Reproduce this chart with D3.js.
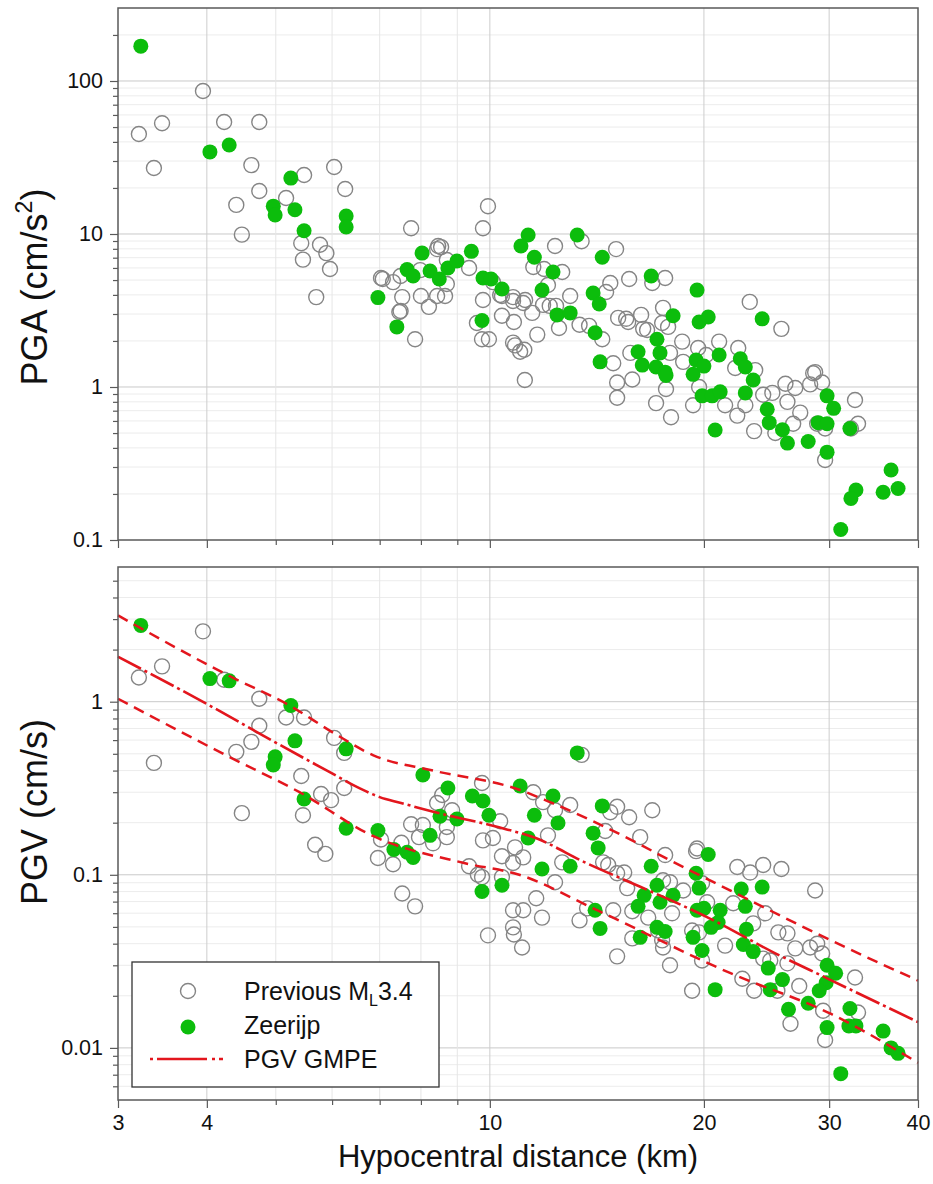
<!DOCTYPE html>
<html><head><meta charset="utf-8">
<script src="https://cdn.jsdelivr.net/npm/d3@7"></script>
<style>body{margin:0;background:#fff;} svg{display:block;font-family:"Liberation Sans",Arial,sans-serif;}</style>
</head><body>
<svg id="c" width="933" height="1184"></svg>
<script>
// ---------------- data ----------------
const xTickValues = [3,4,5,6,7,8,9,10,20,30,40];
const xTickLabels = [3,4,10,20,30,40];
const pgaTickLabels = [0.1,1,10,100];
const pgvTickLabels = [0.01,0.1,1];

const previousPGA = [[3.95,86],[3.21,45],[3.46,53],[3.37,27],[4.23,54],[4.74,54],[4.62,28.2],[4.74,19.1],[4.40,15.5],[4.48,9.9],[5.48,24.3],[5.17,17.2],[6.04,27.4],[6.26,19.7],[5.43,8.7],[5.46,6.8],[5.77,8.5],[5.89,7.5],[5.96,5.9],[7.75,10.9],[9.94,15.2],[9.78,10.9],[7.03,5.16],[7.31,4.85],[7.49,5.31],[8.46,8.34],[8.54,8.21],[8.43,7.97],[8.70,6.76],[8.70,4.71],[9.35,5.99],[7.98,5.81],[10.1,4.85],[10.78,3.87],[5.70,3.87],[7.53,3.87],[8.00,3.93],[8.43,3.93],[8.65,3.93],[9.78,3.70],[7.49,3.14],[8.21,3.34],[7.85,2.05],[9.59,2.62],[9.75,2.05],[9.97,2.05],[10.40,3.93],[10.40,2.92],[10.78,3.65],[10.81,2.66],[10.78,1.95],[10.85,1.87],[11.03,1.70],[11.2,1.11],[7.07,5.08],[7.46,3.09],[12.35,8.34],[13.46,8.96],[15.05,7.97],[15.70,5.08],[14.77,4.78],[11.51,6.08],[11.92,5.90],[12.64,5.64],[12.07,4.64],[12.97,3.93],[10.34,3.99],[11.14,3.54],[11.47,3.05],[11.88,3.44],[12.14,3.39],[12.39,3.39],[15.15,2.83],[15.55,2.79],[14.57,4.18],[16.92,4.78],[17.64,5.16],[23.2,3.6],[11.21,3.70],[11.66,2.20],[12.51,2.43],[11.18,1.75],[13.37,2.55],[13.79,2.51],[14.39,2.05],[14.91,1.43],[15.10,1.07],[15.10,0.85],[15.86,1.12],[15.76,1.67],[15.65,2.66],[16.32,2.96],[16.43,2.40],[16.64,2.36],[17.47,2.62],[17.52,3.29],[17.81,2.47],[17.92,1.67],[18.64,1.98],[17.69,0.97],[17.13,0.785],[17.98,0.635],[18.70,1.46],[19.31,0.76],[19.63,1.80],[19.69,1.0],[20.15,1.62],[21.01,1.98],[22.35,1.80],[22.13,1.33],[23.61,1.29],[25.70,2.40],[21.42,0.76],[22.28,0.65],[22.87,0.76],[24.23,0.89],[24.96,0.915],[26.04,1.05],[26.88,0.985],[26.21,0.80],[27.32,0.68],[26.70,0.575],[23.53,0.515],[25.20,0.50],[28.49,1.23],[28.67,1.25],[28.21,1.04],[29.33,1.07],[28.86,0.575],[29.61,0.535],[29.61,0.333],[32.62,0.822],[32.94,0.575],[32.19,0.535]];

const zeerijpPGA = [[3.23,169],[4.04,34.4],[4.30,38.2],[5.25,23.2],[4.96,15.2],[4.99,13.3],[5.32,14.4],[5.48,10.5],[6.28,13.1],[6.28,11.1],[6.96,3.84],[7.40,2.47],[8.03,7.5],[7.65,5.85],[7.80,5.31],[8.24,5.73],[8.49,5.08],[8.73,5.99],[8.99,6.66],[9.42,7.7],[9.78,5.16],[10.04,5.08],[10.40,4.37],[11.32,9.85],[11.06,8.34],[11.55,7.05],[12.27,5.64],[11.84,4.30],[13.27,9.85],[14.39,7.05],[13.97,4.11],[14.25,3.49],[12.43,2.96],[12.97,3.05],[9.75,2.72],[16.86,5.31],[19.56,4.30],[14.06,2.26],[14.29,1.46],[18.10,2.92],[19.69,2.66],[20.28,2.87],[24.15,2.79],[17.18,2.05],[16.16,1.70],[17.35,1.67],[16.38,1.39],[17.13,1.35],[17.64,1.25],[17.69,1.19],[19.50,1.50],[19.31,1.21],[20.0,1.37],[21.01,1.62],[22.50,1.53],[22.87,1.35],[23.46,1.11],[22.87,0.915],[19.88,0.875],[20.54,0.875],[21.08,0.93],[20.74,0.523],[29.80,0.875],[30.44,0.725],[24.55,0.715],[24.71,0.585],[25.79,0.525],[26.21,0.43],[28.03,0.44],[28.95,0.585],[29.80,0.575],[29.80,0.375],[32.09,0.535],[36.66,0.287],[35.73,0.205],[37.50,0.217],[32.72,0.212],[32.19,0.187],[31.15,0.117]];

const previousPGV = [[3.95,2.55],[3.21,1.38],[3.46,1.60],[3.37,0.443],[4.23,1.34],[4.74,1.04],[4.74,0.726],[4.62,0.586],[4.40,0.513],[4.48,0.227],[5.17,0.81],[5.48,0.81],[5.43,0.372],[5.46,0.221],[5.79,0.293],[5.98,0.270],[6.04,0.618],[6.24,0.506],[6.24,0.317],[7.75,0.196],[8.05,0.194],[7.95,0.165],[8.43,0.26],[8.57,0.289],[8.85,0.236],[8.70,0.189],[8.70,0.165],[8.32,0.152],[9.75,0.339],[10.34,0.204],[9.78,0.158],[10.1,0.163],[7.03,0.16],[7.51,0.153],[5.68,0.149],[10.85,0.144],[5.87,0.132],[6.96,0.125],[7.31,0.115],[7.53,0.078],[7.85,0.0657],[9.35,0.112],[9.62,0.1],[9.75,0.097],[10.40,0.128],[10.78,0.117],[10.40,0.097],[9.94,0.0447],[10.78,0.0624],[10.78,0.0497],[10.81,0.0452],[11.1,0.038],[13.46,0.493],[11.51,0.30],[11.88,0.263],[12.35,0.236],[12.97,0.253],[12.07,0.169],[15.10,0.247],[14.77,0.23],[15.70,0.215],[16.92,0.236],[14.53,0.179],[16.27,0.165],[19.56,0.142],[11.14,0.126],[11.62,0.0732],[11.14,0.0624],[11.84,0.0566],[12.35,0.0906],[12.64,0.118],[13.37,0.0545],[13.70,0.064],[14.43,0.118],[14.67,0.114],[15.10,0.102],[15.45,0.103],[14.91,0.0624],[15.10,0.0338],[15.60,0.0838],[15.86,0.0616],[15.86,0.0429],[16.70,0.0566],[17.24,0.0477],[17.64,0.13],[17.52,0.093],[17.92,0.0906],[18.04,0.0599],[17.47,0.0418],[17.52,0.038],[17.92,0.030],[18.70,0.0812],[19.25,0.0477],[19.50,0.137],[19.88,0.0894],[20.21,0.0694],[19.69,0.0465],[19.88,0.032],[19.25,0.0214],[21.42,0.039],[21.99,0.0685],[22.28,0.111],[23.23,0.103],[24.23,0.114],[25.70,0.108],[24.39,0.0599],[23.46,0.0524],[22.65,0.0251],[23.53,0.0214],[25.45,0.0465],[26.21,0.0459],[26.88,0.0376],[26.21,0.0308],[24.23,0.0328],[24.79,0.032],[28.21,0.038],[28.86,0.040],[29.33,0.0351],[27.23,0.0228],[25.37,0.0214],[28.67,0.0812],[32.62,0.0255],[32.94,0.016],[29.42,0.0164],[29.61,0.0111],[26.47,0.0138]];

const zeerijpPGV = [[3.23,2.76],[4.04,1.36],[4.30,1.32],[5.25,0.95],[5.32,0.594],[4.99,0.48],[4.96,0.431],[6.28,0.534],[5.48,0.274],[6.28,0.186],[6.96,0.18],[8.05,0.377],[8.73,0.317],[8.51,0.218],[8.99,0.21],[8.24,0.169],[9.45,0.285],[9.78,0.267],[9.97,0.221],[11.03,0.326],[7.33,0.14],[7.65,0.135],[7.80,0.126],[9.75,0.08],[10.40,0.087],[13.27,0.506],[12.27,0.285],[11.55,0.221],[12.47,0.199],[14.39,0.25],[13.97,0.174],[11.32,0.163],[14.20,0.143],[20.28,0.131],[12.97,0.112],[11.84,0.108],[14.06,0.0624],[14.29,0.049],[16.27,0.0435],[16.16,0.0657],[16.48,0.0761],[16.86,0.112],[17.18,0.087],[17.35,0.0694],[18.10,0.0761],[17.18,0.0497],[17.64,0.047],[19.31,0.0435],[19.88,0.0365],[19.50,0.102],[19.69,0.0838],[19.56,0.0624],[20.0,0.064],[21.08,0.0624],[20.94,0.053],[20.47,0.0497],[20.74,0.0217],[22.57,0.0827],[22.87,0.0657],[24.15,0.0849],[22.95,0.0484],[22.72,0.0396],[23.46,0.036],[24.63,0.0289],[24.79,0.0217],[25.79,0.0248],[26.30,0.0167],[28.03,0.0181],[29.80,0.030],[30.64,0.027],[29.71,0.0238],[29.05,0.0214],[29.80,0.0131],[32.09,0.0169],[31.98,0.0134],[32.72,0.0134],[35.73,0.0125],[36.66,0.01],[37.50,0.0093],[31.15,0.0071]];

const gmpeMedian = [[3.0,1.82],[4.0,0.97],[5.0,0.58],[6.0,0.385],[6.5,0.322],[7.0,0.281],[7.5,0.260],[8.3,0.232],[10.3,0.188],[11.6,0.163],[13.6,0.118],[15.5,0.093],[17.6,0.074],[20.2,0.057],[25.2,0.0352],[29.7,0.0254],[40,0.0141]];
const gmpeUpper = [[3.0,3.15],[4.3,1.41],[5.23,0.95],[6.03,0.66],[6.86,0.49],[8.32,0.40],[11.0,0.31],[12.1,0.265],[16.1,0.153],[17.6,0.126],[21.8,0.081],[30.2,0.0417],[40,0.0245]];
const gmpeLower = [[3.0,1.04],[4.3,0.48],[5.4,0.30],[6.86,0.167],[9.2,0.117],[11.0,0.100],[14.2,0.062],[21.8,0.027],[30.2,0.0157],[40,0.0082]];

// ---------------- drawing ----------------
const svg = d3.select("#c");
const GREEN = "#0cbd0c", OPEN = "#858585", RED = "#e3161d";
const R = 7.5;
const x = d3.scaleLog().domain([3,40]).range([118,918]);

function minorVals(domain){
  const out=[];
  for(let e=Math.floor(Math.log10(domain[0]))-1;e<=Math.ceil(Math.log10(domain[1]));e++){
    for(let k=1;k<=9;k++){const v=k*Math.pow(10,e); if(v>domain[0]*1.0001 && v<domain[1]*0.9999) out.push({v, major:k===1});}
  }
  return out;
}

function panel(y0,y1,domain,labels,prev,zee,withLines,withXLabels){
  const y = d3.scaleLog().domain(domain).range([y1,y0]);
  const g = svg.append("g");
  const mv = minorVals(domain);
  g.selectAll(".hg").data(mv).join("line")
    .attr("x1",118).attr("x2",918).attr("y1",d=>y(d.v)).attr("y2",d=>y(d.v))
    .attr("stroke",d=>d.major?"#c9c9c9":"#ececec").attr("stroke-width",1);
  g.selectAll(".vg").data(xTickValues.filter(v=>v>3&&v<40)).join("line")
    .attr("x1",d=>x(d)).attr("x2",d=>x(d)).attr("y1",y0).attr("y2",y1)
    .attr("stroke",d=>[4,10,20,30].includes(d)?"#cdcdcd":"#e6e6e6").attr("stroke-width",1);
  g.selectAll(".op").data(prev).join("circle")
    .attr("cx",d=>x(d[0])).attr("cy",d=>y(d[1])).attr("r",R)
    .attr("fill","none").attr("stroke",OPEN).attr("stroke-width",1.4);
  g.selectAll(".gp").data(zee).join("circle")
    .attr("cx",d=>x(d[0])).attr("cy",d=>y(d[1])).attr("r",R)
    .attr("fill",GREEN);
  if(withLines){
    const line = d3.line().x(d=>x(d[0])).y(d=>y(d[1])).curve(d3.curveMonotoneX);
    g.append("path").attr("d",line(gmpeUpper)).attr("fill","none").attr("stroke",RED).attr("stroke-width",2.5).attr("stroke-dasharray","11,7");
    g.append("path").attr("d",line(gmpeLower)).attr("fill","none").attr("stroke",RED).attr("stroke-width",2.5).attr("stroke-dasharray","11,7");
    g.append("path").attr("d",line(gmpeMedian)).attr("fill","none").attr("stroke",RED).attr("stroke-width",2.6).attr("stroke-dasharray","26,4,3,4");
  }
  g.append("rect").attr("x",118).attr("y",y0).attr("width",800).attr("height",y1-y0)
    .attr("fill","none").attr("stroke","#5a5a5a").attr("stroke-width",1.5);
  const yMinor = d3.axisLeft(y).tickValues(mv.filter(d=>!d.major).map(d=>d.v)).tickSize(5).tickFormat("");
  const yMajor = d3.axisLeft(y).tickValues(labels).tickSize(8).tickPadding(7).tickFormat(d3.format("~g"));
  [yMinor,yMajor].forEach(ax=>{
    const a = g.append("g").attr("transform","translate(118,0)").call(ax);
    a.select(".domain").remove();
    a.selectAll("line").attr("stroke","#5a5a5a").attr("stroke-width",1.2);
    a.selectAll("text").attr("font-size",21.5).attr("fill","#111").attr("font-family","Liberation Sans, Arial, sans-serif");
  });
  const xMinor = d3.axisBottom(x).tickValues(xTickValues.filter(v=>!xTickLabels.includes(v))).tickSize(5).tickFormat("");
  const xMajor = d3.axisBottom(x).tickValues(xTickLabels).tickSize(8).tickPadding(7).tickFormat(withXLabels?d3.format("~g"):"");
  [xMinor,xMajor].forEach(ax=>{
    const a = g.append("g").attr("transform",`translate(0,${y1})`).call(ax);
    a.select(".domain").remove();
    a.selectAll("line").attr("stroke","#5a5a5a").attr("stroke-width",1.2);
    a.selectAll("text").attr("font-size",21.5).attr("fill","#111").attr("font-family","Liberation Sans, Arial, sans-serif");
  });
  return y;
}

panel(8,540,[0.1,300],pgaTickLabels,previousPGA,zeerijpPGA,false,false);
panel(567,1100,[0.005,6],pgvTickLabels,previousPGV,zeerijpPGV,true,true);

// axis titles
const t1 = svg.append("text").attr("transform","translate(47,287) rotate(-90)")
  .attr("text-anchor","middle").attr("font-size",36).attr("fill","#111");
t1.append("tspan").text("PGA (cm/s");
t1.append("tspan").text("2").attr("font-size",23).attr("dy",-15);
t1.append("tspan").text(")").attr("dy",15);
svg.append("text").attr("transform","translate(47,812) rotate(-90)")
  .attr("text-anchor","middle").attr("font-size",36).attr("fill","#111").text("PGV (cm/s)");
svg.append("text").attr("x",518).attr("y",1167).attr("text-anchor","middle")
  .attr("font-size",31).attr("fill","#111").text("Hypocentral distance (km)");

// legend
const lg = svg.append("g");
lg.append("rect").attr("x",132).attr("y",962).attr("width",307).attr("height",125)
  .attr("fill","#fff").attr("stroke","#333").attr("stroke-width",1.3);
lg.append("circle").attr("cx",188).attr("cy",991).attr("r",R).attr("fill","none").attr("stroke",OPEN).attr("stroke-width",1.4);
lg.append("circle").attr("cx",188).attr("cy",1027).attr("r",R).attr("fill",GREEN);
lg.append("line").attr("x1",150).attr("x2",226).attr("y1",1059).attr("y2",1059)
  .attr("stroke",RED).attr("stroke-width",2.6).attr("stroke-dasharray","3,4,50,5,3,4,4");
const lt = lg.append("text").attr("x",244).attr("y",1000).attr("font-size",25).attr("fill","#111");
lt.append("tspan").text("Previous M");
lt.append("tspan").text("L").attr("font-size",16).attr("dy",6);
lt.append("tspan").text("3.4").attr("dy",-6);
lg.append("text").attr("x",244).attr("y",1034).attr("font-size",25).attr("fill","#111").text("Zeerijp");
lg.append("text").attr("x",244).attr("y",1068).attr("font-size",25).attr("fill","#111").text("PGV GMPE");
</script>
</body></html>
